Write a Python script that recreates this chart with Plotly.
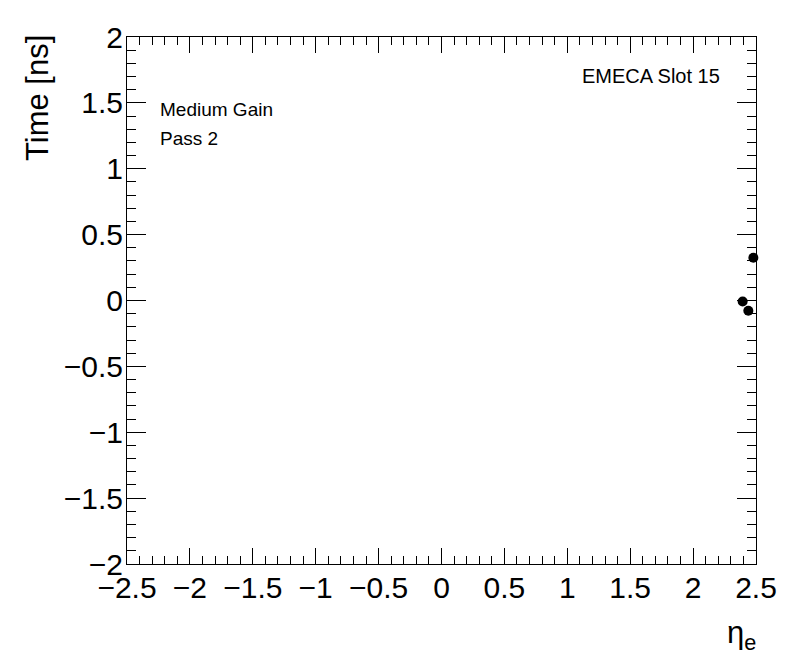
import plotly.graph_objects as go

eta = [2.394, 2.439, 2.479]
time_ns = [-0.008, -0.078, 0.325]

x_ticks = [-2.5, -2, -1.5, -1, -0.5, 0, 0.5, 1, 1.5, 2, 2.5]
y_ticks = [-2, -1.5, -1, -0.5, 0, 0.5, 1, 1.5, 2]

def fmt(v):
    s = ("%g" % v)
    return s.replace("-", "\u2212")

# page body has an 8px margin; compensate so the frame lands at the reference pixels
OFF = 8
L, R, T, B = 127, 756, 34, 564
W, H = 796 - OFF, 672 - OFF
PW, PH = R - L, B - T

def px(xp):
    return (xp - L) / PW

def py(yp):
    return 1 - (yp - T) / PH

fig = go.Figure()
fig.add_trace(go.Scatter(
    x=eta, y=time_ns, mode="markers",
    marker=dict(color="black", size=10, symbol="circle"),
    showlegend=False, cliponaxis=False,
))

axis_common = dict(
    showgrid=False, zeroline=False, showline=True, linecolor="black", linewidth=1,
    mirror="allticks", ticks="inside", tickcolor="black", tickwidth=1,
    tickfont=dict(family="Liberation Sans, Arial, sans-serif", size=30, color="black"),
)

fig.update_layout(
    width=W, height=H,
    margin=dict(l=L - OFF, r=W + OFF - R, t=T - OFF, b=H + OFF - B, pad=0),
    paper_bgcolor="white", plot_bgcolor="white",
    xaxis=dict(range=[-2.5, 2.5], tickvals=x_ticks, ticktext=[fmt(v) for v in x_ticks],
               ticklen=16, ticklabelstandoff=-3,
               minor=dict(dtick=0.1, tick0=0, ticklen=8, ticks="inside", tickcolor="black"),
               **axis_common),
    yaxis=dict(range=[-2, 2], tickvals=y_ticks, ticktext=[fmt(v) for v in y_ticks],
               ticklen=19, ticklabelstandoff=-3,
               minor=dict(dtick=0.1, tick0=0, ticklen=9, ticks="inside", tickcolor="black"),
               **axis_common),
    font=dict(family="Liberation Sans, Arial, sans-serif", color="black"),
)

fig.add_annotation(text="Time [ns]", textangle=-90, xref="paper", yref="paper",
                   x=px(37), y=py(30), xanchor="center", yanchor="top",
                   showarrow=False, font=dict(size=31))
fig.add_annotation(text="\u03b7<sub>e</sub>", xref="paper", yref="paper",
                   x=px(758), y=py(635), xanchor="right", yanchor="middle",
                   showarrow=False, font=dict(size=31))
fig.add_annotation(text="Medium Gain", xref="paper", yref="paper",
                   x=px(158), y=py(107), xanchor="left", yanchor="middle",
                   showarrow=False, font=dict(size=19))
fig.add_annotation(text="Pass 2", xref="paper", yref="paper",
                   x=px(158), y=py(136), xanchor="left", yanchor="middle",
                   showarrow=False, font=dict(size=19))
fig.add_annotation(text="EMECA Slot 15", xref="paper", yref="paper",
                   x=px(722), y=py(73), xanchor="right", yanchor="middle",
                   showarrow=False, font=dict(size=20))

fig.write_html("out.html")
